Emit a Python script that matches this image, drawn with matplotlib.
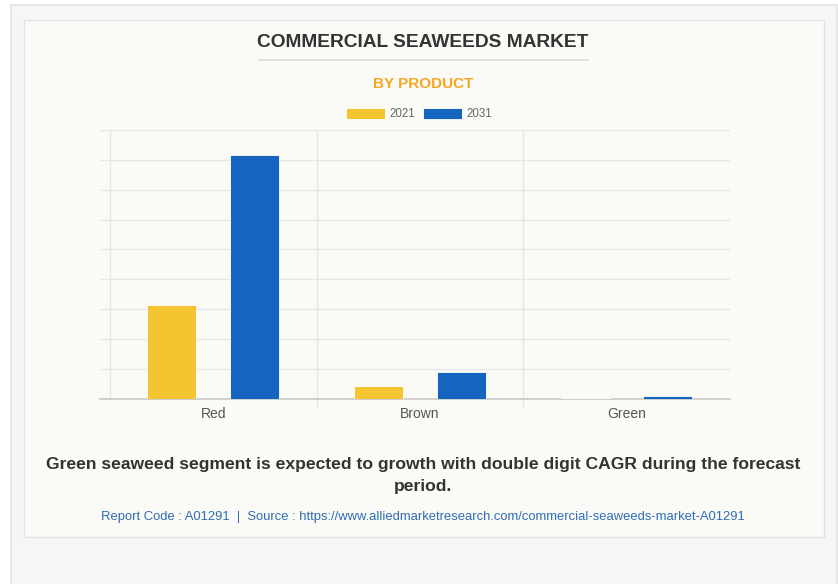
import numpy as np
import matplotlib.pyplot as plt
from matplotlib.patches import Rectangle
from matplotlib.lines import Line2D

# chart data (arbitrary units)
categories = ["Red", "Brown", "Green"]
years = ["2021", "2031"]
values_2021 = [3.14, 0.44, 0.03]
values_2031 = [8.17, 0.90, 0.10]
colors = ["#f4c531", "#1565c0"]

W, H = 838, 584
plt.rcParams["font.family"] = ["Liberation Sans", "DejaVu Sans"]
fig = plt.figure(figsize=(W / 100, H / 100), dpi=100)
fig.patch.set_facecolor("white")

def px(x, y, w, h):
    # pixel box (top-left origin) -> figure fraction
    return (x / W, 1 - (y + h) / H, w / W, h / H)

# outer frame and card (behind the axes)
x0, y0, w0, h0 = px(10.5, 5.5, 826, 600)
fig.add_artist(Rectangle((x0, y0), w0, h0, transform=fig.transFigure, zorder=-10,
                         facecolor="#f6f6f6", edgecolor="#e3e3e3", lw=1.2))
x1, y1, w1, h1 = px(23.5, 19.5, 800, 517)
fig.add_artist(Rectangle((x1, y1), w1, h1, transform=fig.transFigure, zorder=-9,
                         facecolor="#fafaf6", edgecolor="#e2e2e2", lw=1.0))

# titles
fig.text(423 / W, 1 - 42.5 / H, "COMMERCIAL SEAWEEDS MARKET", ha="center", va="center",
         fontsize=13.8, fontweight="bold", color="#333333")
fig.add_artist(Line2D([259 / W, 588 / W], [1 - 60 / H, 1 - 60 / H],
                      transform=fig.transFigure, color="#dcdcdc", lw=1.2))
fig.text(423 / W, 1 - 84 / H, "BY PRODUCT", ha="center", va="center",
         fontsize=11, fontweight="bold", color="#f5a623")

# axes
ax = fig.add_axes(px(100, 130, 630, 268.7))
ax.set_facecolor("none")
x = np.arange(len(categories))
bw = 0.237
ax.bar(x - 0.2, values_2021, bw, color=colors[0], edgecolor="white", lw=0.6, zorder=3, label=years[0])
ax.bar(x + 0.2, values_2031, bw, color=colors[1], edgecolor="white", lw=0.6, zorder=3, label=years[1])

ax.set_xlim(-0.548, 2.5)
ax.set_ylim(0, 9)
ax.set_yticks(np.arange(0, 10))
ax.yaxis.grid(True, color="#e6e6e6", lw=1.0, zorder=0)
ax.tick_params(axis="y", left=False, labelleft=False)
ax.set_xticks(x)
ax.set_xticklabels(categories, fontsize=10, color="#555555")
ax.tick_params(axis="x", length=0, pad=6)
for b in [-0.5, 0.5, 1.5]:
    lo = 0 if b < 0 else -0.25
    ax.plot([b, b], [lo, 9], color="#e6e6e6", lw=1.0, zorder=1, clip_on=False)
for s in ["top", "right", "left"]:
    ax.spines[s].set_visible(False)
ax.spines["bottom"].set_color("#c8c8c8")
ax.spines["bottom"].set_linewidth(1.2)

# legend (boxes + labels drawn in pixel positions)
for (bx, tx), yr, c in zip([(346, 389), (423, 466)], years, colors):
    rx, ry, rw, rh = px(bx, 108, 39, 11)
    fig.add_artist(Rectangle((rx, ry), rw, rh, transform=fig.transFigure,
                             facecolor=c, edgecolor="white", lw=0.6))
    fig.text(tx / W, 1 - 114 / H, yr, ha="left", va="center", fontsize=8.3, color="#666666")

# footer text
fig.text(423 / W, 1 - 465 / H,
         "Green seaweed segment is expected to growth with double digit CAGR during the forecast",
         ha="center", va="center", fontsize=12.6, fontweight="bold", color="#333333")
fig.text(423 / W, 1 - 487 / H, "period.", ha="center", va="center",
         fontsize=12.6, fontweight="bold", color="#333333")
fig.text(423 / W, 1 - 517 / H,
         "Report Code : A01291  |  Source : https://www.alliedmarketresearch.com/commercial-seaweeds-market-A01291",
         ha="center", va="center", fontsize=9.4, color="#2f6db5")

plt.savefig("out.png", dpi=100)
